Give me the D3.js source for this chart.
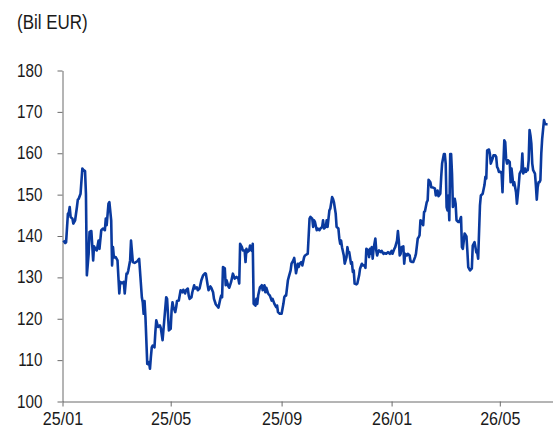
<!DOCTYPE html>
<html>
<head>
<meta charset="utf-8">
<script src="https://cdn.jsdelivr.net/npm/d3@7"></script>
<style>
  body { margin: 0; background: #fff; }
  svg { display: block; }
  text { font-family: "Liberation Sans", Arial, sans-serif; }
</style>
</head>
<body>
<svg id="chart" width="553" height="432"></svg>
<script>
// Daily observations, billions of EUR
const dates = [
"2025-01-02","2025-01-04","2025-01-05","2025-01-07","2025-01-08","2025-01-09","2025-01-10","2025-01-12","2025-01-13","2025-01-15",
"2025-01-17","2025-01-18","2025-01-19","2025-01-21","2025-01-23","2025-01-24","2025-01-26","2025-01-27","2025-01-28","2025-01-30",
"2025-01-31","2025-02-02","2025-02-03","2025-02-04","2025-02-05","2025-02-07","2025-02-08","2025-02-10","2025-02-11","2025-02-13",
"2025-02-15","2025-02-17","2025-02-18","2025-02-19","2025-02-21","2025-02-22","2025-02-24","2025-02-25","2025-02-26","2025-02-27",
"2025-03-01","2025-03-03","2025-03-04","2025-03-05","2025-03-06","2025-03-08","2025-03-10","2025-03-11","2025-03-13","2025-03-14",
"2025-03-15","2025-03-17","2025-03-18","2025-03-20","2025-03-22","2025-03-25","2025-03-27","2025-03-30","2025-03-31","2025-04-01",
"2025-04-02","2025-04-03","2025-04-05","2025-04-06","2025-04-07","2025-04-08","2025-04-09","2025-04-10","2025-04-11","2025-04-13",
"2025-04-14","2025-04-15","2025-04-17","2025-04-19","2025-04-20","2025-04-22","2025-04-24","2025-04-26","2025-04-27","2025-04-29",
"2025-05-01","2025-05-02","2025-05-03","2025-05-04","2025-05-06","2025-05-07","2025-05-08","2025-05-10","2025-05-12","2025-05-14",
"2025-05-15","2025-05-17","2025-05-18","2025-05-20","2025-05-21","2025-05-22","2025-05-24","2025-05-25","2025-05-27","2025-05-28",
"2025-05-30","2025-05-31","2025-06-02","2025-06-04","2025-06-06","2025-06-08","2025-06-09","2025-06-11","2025-06-12","2025-06-14",
"2025-06-15","2025-06-17","2025-06-18","2025-06-20","2025-06-21","2025-06-23","2025-06-25","2025-06-26","2025-06-27","2025-06-28",
"2025-06-30","2025-07-01","2025-07-02","2025-07-04","2025-07-05","2025-07-07","2025-07-09","2025-07-11","2025-07-13","2025-07-15",
"2025-07-16","2025-07-17","2025-07-19","2025-07-20","2025-07-22","2025-07-23","2025-07-24","2025-07-25","2025-07-27","2025-07-28",
"2025-07-30","2025-07-31","2025-08-01","2025-08-03","2025-08-04","2025-08-05","2025-08-06","2025-08-08","2025-08-10","2025-08-11",
"2025-08-13","2025-08-14","2025-08-15","2025-08-17","2025-08-19","2025-08-21","2025-08-22","2025-08-24","2025-08-26","2025-08-27",
"2025-08-28","2025-08-30","2025-09-01","2025-09-03","2025-09-04","2025-09-05","2025-09-06","2025-09-08","2025-09-09","2025-09-11",
"2025-09-12","2025-09-14","2025-09-15","2025-09-16","2025-09-17","2025-09-19","2025-09-20","2025-09-21","2025-09-23","2025-09-24",
"2025-09-26","2025-09-27","2025-09-29","2025-09-30","2025-10-02","2025-10-03","2025-10-05","2025-10-06","2025-10-07","2025-10-08",
"2025-10-10","2025-10-11","2025-10-13","2025-10-14","2025-10-16","2025-10-17","2025-10-18","2025-10-20","2025-10-21","2025-10-22",
"2025-10-24","2025-10-25","2025-10-27","2025-10-28","2025-10-29","2025-10-31","2025-11-01","2025-11-03","2025-11-04","2025-11-05",
"2025-11-06","2025-11-07","2025-11-09","2025-11-10","2025-11-12","2025-11-13","2025-11-14","2025-11-15","2025-11-17","2025-11-18",
"2025-11-19","2025-11-20","2025-11-21","2025-11-23","2025-11-24","2025-11-26","2025-11-27","2025-11-29","2025-11-30","2025-12-02",
"2025-12-03","2025-12-04","2025-12-06","2025-12-07","2025-12-08","2025-12-09","2025-12-10","2025-12-11","2025-12-12","2025-12-14",
"2025-12-15","2025-12-16","2025-12-17","2025-12-18","2025-12-20","2025-12-21","2025-12-23","2025-12-24","2025-12-26","2025-12-28",
"2025-12-30","2026-01-01","2026-01-02","2026-01-04","2026-01-05","2026-01-07","2026-01-08","2026-01-09","2026-01-10","2026-01-11",
"2026-01-12","2026-01-14","2026-01-15","2026-01-16","2026-01-18","2026-01-19","2026-01-21","2026-01-22","2026-01-24","2026-01-25",
"2026-01-27","2026-01-28","2026-01-30","2026-01-31","2026-02-01","2026-02-02","2026-02-04","2026-02-05","2026-02-06","2026-02-07",
"2026-02-09","2026-02-10","2026-02-11","2026-02-13","2026-02-14","2026-02-16","2026-02-18","2026-02-19","2026-02-21","2026-02-22",
"2026-02-24","2026-02-25","2026-02-26","2026-02-28","2026-03-01","2026-03-02","2026-03-03","2026-03-04","2026-03-05","2026-03-06",
"2026-03-07","2026-03-08","2026-03-09","2026-03-10","2026-03-12","2026-03-13","2026-03-14","2026-03-16","2026-03-17","2026-03-19",
"2026-03-20","2026-03-21","2026-03-23","2026-03-25","2026-03-26","2026-03-27","2026-03-29","2026-03-31","2026-04-01","2026-04-03",
"2026-04-05","2026-04-06","2026-04-07","2026-04-09","2026-04-10","2026-04-12","2026-04-14","2026-04-15","2026-04-16","2026-04-17",
"2026-04-19","2026-04-20","2026-04-21","2026-04-23","2026-04-24","2026-04-26","2026-04-27","2026-04-28","2026-04-29","2026-04-30",
"2026-05-02","2026-05-03","2026-05-04","2026-05-05","2026-05-06","2026-05-07","2026-05-08","2026-05-09","2026-05-10","2026-05-12",
"2026-05-13","2026-05-14","2026-05-15","2026-05-16","2026-05-17","2026-05-18","2026-05-19","2026-05-20","2026-05-22","2026-05-23",
"2026-05-24","2026-05-25","2026-05-26","2026-05-27","2026-05-29","2026-05-30","2026-05-31","2026-06-01","2026-06-02","2026-06-03",
"2026-06-04","2026-06-05","2026-06-06","2026-06-07","2026-06-09","2026-06-10","2026-06-11","2026-06-12","2026-06-13","2026-06-14",
"2026-06-15","2026-06-16","2026-06-17","2026-06-19","2026-06-20","2026-06-21","2026-06-22","2026-06-23"
];

const values = [
138.9,138.3,138.5,145.4,145.6,147.0,144.6,144.2,143.0,143.8,
147.0,148.8,149.0,150.2,156.3,156.0,155.7,150.2,130.5,135.7,
141.0,141.2,137.7,134.1,137.5,136.7,136.5,138.9,136.9,141.4,
141.8,141.4,144.2,142.6,147.8,148.2,143.8,132.9,137.3,134.8,
134.9,134.1,130.1,126.1,128.9,128.6,128.9,126.1,130.9,130.9,
131.7,134.1,138.9,133.7,133.5,133.9,134.5,125.2,124.0,121.2,
124.3,120.4,109.1,109.0,109.5,107.9,110.7,113.1,113.5,113.1,
116.8,119.6,118.0,118.4,117.8,114.8,120.0,125.2,124.8,117.2,
117.6,122.0,124.0,122.8,121.6,122.7,124.3,124.4,126.9,126.4,
127.0,126.1,126.9,127.3,125.6,124.8,125.2,126.4,128.1,127.3,
127.6,126.9,127.3,129.3,130.5,131.0,130.9,128.1,126.9,127.8,
127.5,126.4,124.8,123.5,123.2,122.7,124.8,125.6,125.2,132.5,
132.2,128.1,129.3,127.8,127.5,128.9,130.9,129.7,130.1,129.7,
128.5,138.1,137.3,136.5,136.5,133.7,136.9,136.1,136.5,137.7,
136.4,138.1,123.6,123.2,124.8,123.6,125.6,127.6,128.1,126.9,
128.1,126.4,127.5,126.1,125.6,124.4,124.8,123.6,122.8,123.2,
121.6,121.2,121.2,123.6,125.2,125.6,125.6,129.3,130.1,131.7,
133.3,134.1,134.7,132.9,131.0,133.3,132.5,133.3,133.7,132.9,
134.9,135.3,135.6,135.7,144.2,144.6,144.2,142.2,143.8,143.4,
141.4,141.8,141.4,141.8,142.2,143.8,141.8,142.2,143.8,142.2,
146.2,146.6,149.4,149.0,148.2,145.4,142.2,141.8,139.4,138.1,
138.9,137.3,135.3,133.3,134.9,137.3,136.1,136.1,133.3,133.7,
131.3,131.7,128.5,128.3,128.5,130.5,132.1,133.3,132.9,132.9,
132.3,136.9,136.5,134.9,136.9,135.7,137.3,134.5,136.9,139.4,
136.5,135.3,136.1,136.5,136.1,136.4,135.7,135.9,135.7,136.1,
135.7,136.4,135.7,136.9,137.3,138.9,141.2,138.9,135.3,135.7,
137.3,137.5,133.3,135.7,135.3,135.7,135.3,133.9,133.7,133.7,
134.9,135.7,139.4,139.7,140.2,143.8,143.4,142.6,145.8,146.0,
148.2,148.6,153.6,153.0,151.8,151.7,151.5,149.8,151.0,149.6,
150.2,154.3,157.5,159.8,159.8,157.5,147.0,146.2,149.8,143.8,
159.8,159.8,155.1,147.0,149.0,147.8,143.8,143.4,143.4,144.6,
137.3,136.9,140.6,139.9,136.5,132.5,131.7,132.2,137.7,138.5,
136.0,136.0,134.5,147.4,149.8,150.2,152.3,154.3,153.9,160.7,
160.9,159.9,157.5,158.7,159.5,159.5,159.1,156.7,156.3,155.5,
155.5,155.1,150.6,157.5,163.1,162.7,158.7,157.5,158.3,157.9,
153.0,156.3,154.3,152.3,153.0,151.8,150.6,147.8,152.3,155.1,
155.5,155.9,159.9,155.1,156.3,155.5,155.9,155.9,158.3,165.6,
164.3,162.3,157.5,155.9,155.1,152.3,148.8,151.8,153.0,153.0,
153.5,159.9,163.5,168.0,167.2,167.0,167.0,167.0
];

const yTicks = [100, 110, 120, 130, 140, 150, 160, 170, 180];
const xTicks = ["2025-01-01", "2025-05-01", "2025-09-01", "2026-01-01", "2026-05-01"];
const xDomain = ["2025-01-01", "2026-06-29"];
const unitLabel = "(Bil EUR)";

const parse = d3.utcParse("%Y-%m-%d");
const series = dates.map((d, i) => ({ date: parse(d), value: values[i] }));

const svg = d3.select("#chart");
const x = d3.scaleUtc().domain(xDomain.map(parse)).range([62.5, 553]);
const y = d3.scaleLinear().domain([100, 180]).range([401.5, 70.5]);

const axisColor = "#6b6b6b";
const textColor = "#1a1a1a";
const squeeze = 0.87;   // horizontal condensing of the label type

// Condense a text element horizontally while keeping its anchor point fixed
function condense(sel) {
  sel.each(function () {
    const t = d3.select(this);
    const x0 = +t.attr("x") || 0;
    t.attr("x", x0 / squeeze).attr("transform", `scale(${squeeze},1)`);
  });
}

// Y axis
const gy = svg.append("g")
  .attr("transform", "translate(62.5,0)")
  .call(d3.axisLeft(y).tickValues(yTicks).tickSize(5).tickSizeOuter(0).tickPadding(15));
gy.select(".domain").attr("stroke", axisColor);
gy.selectAll(".tick line").attr("stroke", axisColor);
gy.selectAll(".tick text").attr("fill", textColor).style("font-size", "17.5px").call(condense);

// X axis
const gx = svg.append("g")
  .attr("transform", "translate(0,401.5)")
  .call(d3.axisBottom(x).tickValues(xTicks.map(parse)).tickSize(5).tickSizeOuter(0)
    .tickPadding(5).tickFormat(d3.utcFormat("%y/%m")));
gx.select(".domain").attr("stroke", axisColor);
gx.selectAll(".tick line").attr("stroke", axisColor);
gx.selectAll(".tick text").attr("fill", textColor).style("font-size", "18.5px").call(condense);

// Unit label
svg.append("text")
  .attr("x", 17).attr("y", 29)
  .attr("fill", textColor)
  .style("font-size", "19.5px")
  .text(unitLabel)
  .call(condense);

// Series line
svg.append("path")
  .datum(series)
  .attr("fill", "none")
  .attr("stroke", "#0a3a9f")
  .attr("stroke-width", 2.6)
  .attr("stroke-linejoin", "round")
  .attr("d", d3.line().x(d => x(d.date)).y(d => y(d.value)));
</script>
</body>
</html>
